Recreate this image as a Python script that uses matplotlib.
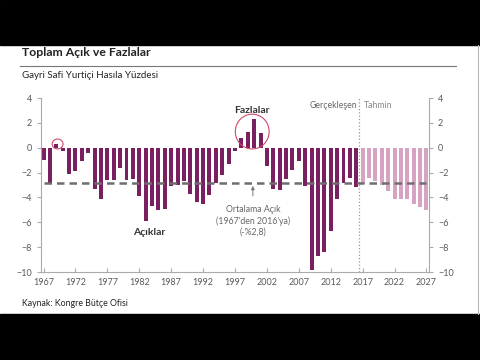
import numpy as np
import matplotlib
matplotlib.use('Agg')
import matplotlib.pyplot as plt
from matplotlib.patches import Ellipse, Rectangle

plt.rcParams['font.family'] = ['Lato', 'DejaVu Sans']

# veri: GSYH yüzdesi olarak açık / fazla
yillar_gercek = list(range(1967, 2017))
deger_gercek = [-1.0, -2.8, 0.3, -0.3, -2.1, -1.9, -1.1, -0.4, -3.3, -4.1,
                -2.6, -2.6, -1.6, -2.6, -2.5, -3.9, -5.9, -4.7, -5.0, -4.9,
                -3.1, -3.0, -2.7, -3.7, -4.4, -4.5, -3.8, -2.8, -2.2, -1.3,
                -0.3, 0.8, 1.3, 2.3, 1.2, -1.5, -3.3, -3.4, -2.5, -1.8,
                -1.1, -3.1, -9.8, -8.7, -8.4, -6.7, -4.1, -2.8, -2.4, -3.2]
yillar_tahmin = list(range(2017, 2028))
deger_tahmin = [-2.9, -2.4, -2.7, -3.0, -3.5, -4.1, -4.1, -4.1, -4.5, -4.8, -5.0]
ortalama = -2.8
x_ticks = list(range(1967, 2028, 5))
y_ticks = [4, 2, 0, -2, -4, -6, -8, -10]

koyu = '#7a1f60'
acik = '#d6a3c3'
gri = '#595959'

fig = plt.figure(figsize=(4.8, 3.6), dpi=100)
fig.patch.set_facecolor('white')
# üst ve alt siyah bantlar
fig.patches.append(Rectangle((0, 1 - 45/360), 1, 45/360, transform=fig.transFigure, color='black', zorder=0))
fig.patches.append(Rectangle((0, 0), 1, 46/360, transform=fig.transFigure, color='black', zorder=0))
fig.add_artist(plt.Line2D([478/480, 478/480], [46/360, 1 - 45/360], transform=fig.transFigure, color='#bbbbbb', lw=0.8))

ax = fig.add_axes([41/480, 88/360, 388/480, 174/360])
ax.bar(yillar_gercek, deger_gercek, width=0.62, color=koyu, zorder=2)
ax.bar(yillar_tahmin, deger_tahmin, width=0.62, color=acik, zorder=2)
ax.plot([1967, 2027], [ortalama, ortalama], ls=(0, (3, 2)), color='#6e6e6e', lw=1.8, zorder=3)
ax.axvline(2016.5, color='#999999', ls=':', lw=0.9, zorder=1)

ax.set_xlim(1966.6, 2027.4)
ax.set_ylim(-10, 4)
ax.set_xticks(x_ticks)
ax.set_yticks(y_ticks)
ax.tick_params(axis='x', direction='in', length=3, colors='#aaaaaa', labelcolor=gri, labelsize=6.5, pad=4)
ax.tick_params(axis='y', direction='out', length=3, colors='#aaaaaa', labelcolor=gri, labelsize=6.5,
               right=True, labelright=True)
for s in ['left', 'right', 'bottom']:
    ax.spines[s].set_color('#aaaaaa')
    ax.spines[s].set_linewidth(0.8)
ax.spines['top'].set_visible(False)

# açıklamalar
ax.text(1999.6, 3.0, 'Fazlalar', fontsize=7.5, fontweight='bold', ha='center', va='center', color='#333333')
ax.add_patch(Ellipse((1999.7, 1.3), 5.3, 2.8, angle=0, fill=False, ec='#d04a6a', lw=0.8, zorder=4))
ax.add_patch(Ellipse((1969.2, 0.3), 1.7, 0.8, fill=False, ec='#d04a6a', lw=0.8, zorder=4))
ax.text(1983.6, -6.8, 'Açıklar', fontsize=7.5, fontweight='bold', ha='center', va='center', color='#333333')
ax.annotate('', xy=(1999.8, -2.85), xytext=(1999.8, -4.1),
            arrowprops=dict(arrowstyle='-|>', color='#777777', lw=0.7, mutation_scale=5), zorder=5)
ax.text(1999.8, -5.9, 'Ortalama Açık\n(1967\'den 2016\'ya)\n(-%2,8)', fontsize=6.3, ha='center', va='center',
        color='#666666', linespacing=1.25)
ax.text(2016.2, 3.4, 'Gerçekleşen', fontsize=6.3, ha='right', va='center', color='#666666')
ax.text(2017.2, 3.4, 'Tahmin', fontsize=6.3, ha='left', va='center', color='#888888')

fig.text(22/480, 1 - 53/360, 'Toplam Açık ve Fazlalar', fontsize=8.8, fontweight='bold', color='#222222', va='center')
fig.add_artist(plt.Line2D([20/480, 456/480], [1 - 66/360, 1 - 66/360], transform=fig.transFigure, color='#777777', lw=0.8))
fig.text(22/480, 1 - 76/360, 'Gayri Safi Yurtiçi Hasıla Yüzdesi', fontsize=7, color='#222222', va='center')
fig.text(22/480, 1 - 303/360, 'Kaynak: Kongre Bütçe Ofisi', fontsize=6.3, color='#222222', va='center')

fig.savefig('out.png', dpi=100, facecolor='white')
